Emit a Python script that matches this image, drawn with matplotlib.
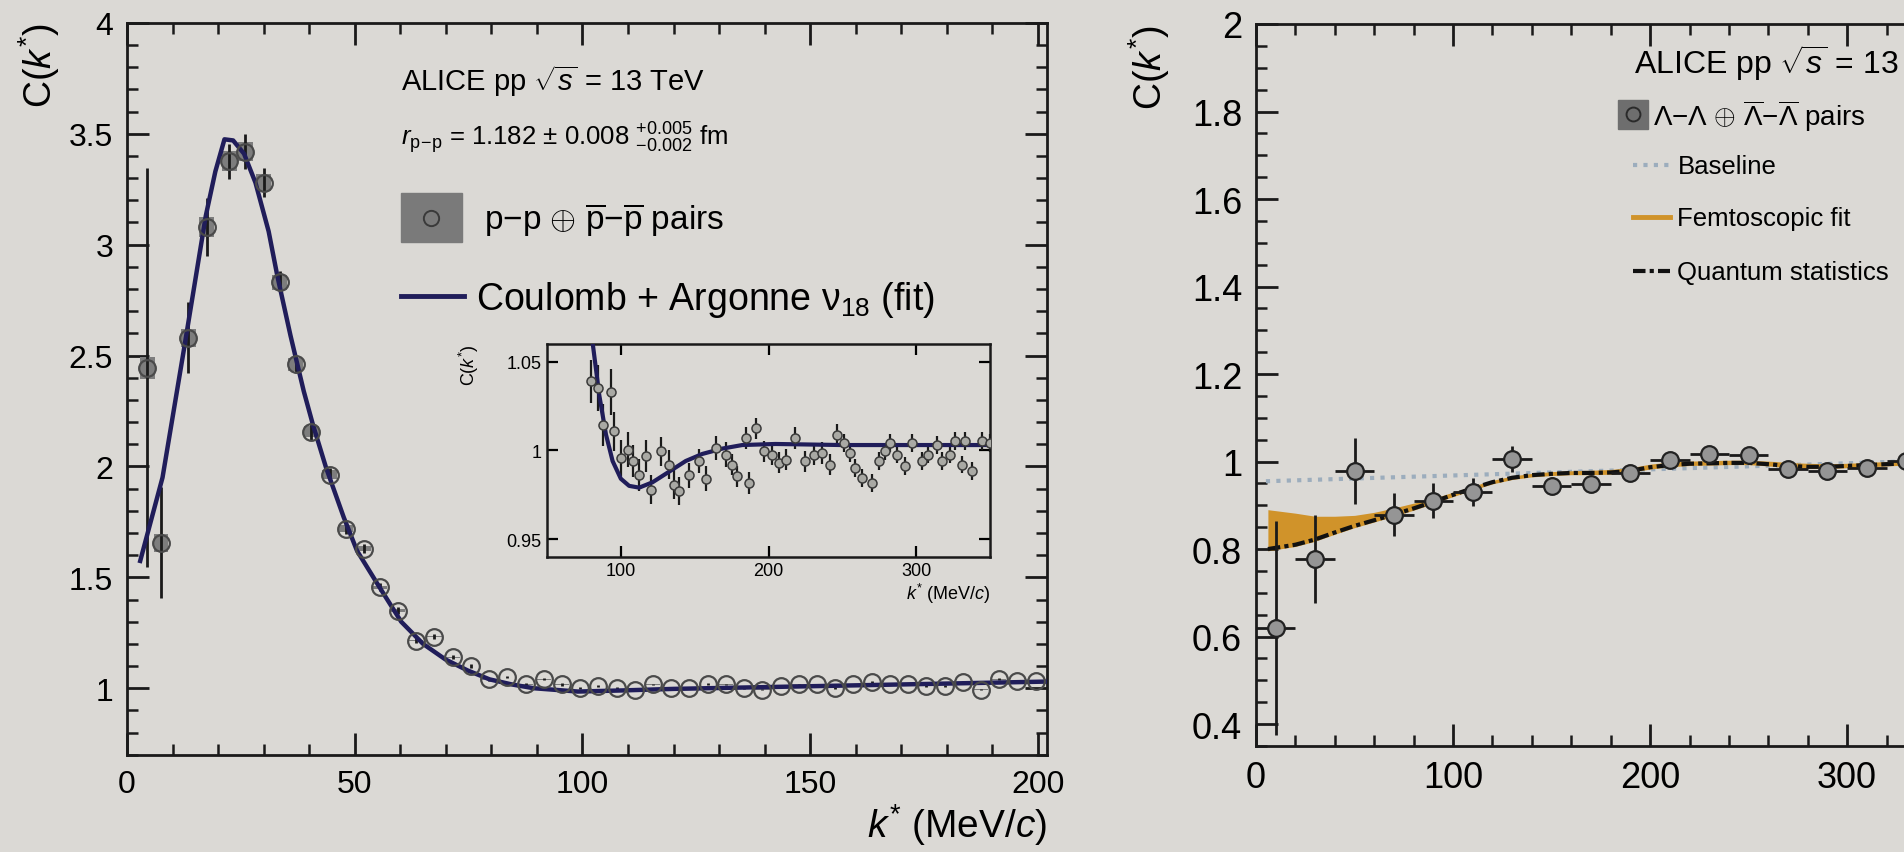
import matplotlib
matplotlib.use("Agg")
import matplotlib.pyplot as plt
from matplotlib.patches import Rectangle
from matplotlib.lines import Line2D
from matplotlib.ticker import MultipleLocator, FuncFormatter

plt.rcParams['font.family'] = ['Liberation Sans', 'DejaVu Sans']
plt.rcParams['mathtext.fontset'] = 'custom'
plt.rcParams['mathtext.rm'] = 'Liberation Sans'
plt.rcParams['mathtext.it'] = 'Liberation Sans:italic'
plt.rcParams['mathtext.bf'] = 'Liberation Sans:bold'
narrow = ['Liberation Sans Narrow', 'Liberation Sans', 'DejaVu Sans']

bg = '#dbd9d5'
navy = '#201d5a'
orange = '#d0932a'

# ---- p-p correlation (left) ----
k_pp = [4.5, 7.5, 13.5, 17.5, 22.5, 26.0, 30.0, 33.5, 37.0, 40.5, 44.5, 48.0, 52.0,
        55.5, 59.5, 63.5, 67.5, 71.5, 75.5, 79.5, 83.5, 87.5, 91.5, 95.5, 99.5, 103.5,
        107.5, 111.5, 115.5, 119.5, 123.5, 127.5, 131.5, 135.5, 139.5, 143.5, 147.5,
        151.5, 155.5, 159.5, 163.5, 167.5, 171.5, 175.5, 179.5, 183.5, 187.5, 191.5,
        195.5, 199.5]
c_pp = [2.445, 1.656, 2.58, 3.08, 3.376, 3.42, 3.28, 2.83, 2.46, 2.156, 1.963, 1.72, 1.63,
        1.455, 1.35, 1.215, 1.233, 1.14, 1.10, 1.04, 1.05, 1.017, 1.04, 1.017, 1.0, 1.01,
        1.0, 0.994, 1.017, 1.0, 1.0, 1.02, 1.017, 1.0, 0.994, 1.009, 1.017,
        1.017, 1.0, 1.017, 1.028, 1.02, 1.02, 1.009, 1.009, 1.028, 0.994, 1.04,
        1.032, 1.032]
stat_pp = [0.90, 0.25, 0.16, 0.13, 0.08, 0.08, 0.065, 0.05, 0.04, 0.035, 0.03, 0.025, 0.02,
           0.018, 0.015, 0.012, 0.01, 0.01, 0.008, 0.007, 0.006, 0.005, 0.005, 0.005, 0.004, 0.004,
           0.004, 0.004, 0.004, 0.004, 0.004, 0.004, 0.004, 0.004, 0.004, 0.004, 0.004,
           0.004, 0.004, 0.004, 0.004, 0.004, 0.004, 0.004, 0.004, 0.004, 0.004, 0.004,
           0.004, 0.004]
syst_pp = [0.05, 0.04, 0.04, 0.045, 0.045, 0.045, 0.04, 0.035, 0.03, 0.025, 0.02, 0.015, 0.01,
           0.008, 0.006, 0.004, 0.003, 0.002, 0.002, 0.001, 0.001, 0.001, 0.001, 0.001, 0.001, 0.001,
           0.001, 0.001, 0.001, 0.001, 0.001, 0.001, 0.001, 0.001, 0.001, 0.001, 0.001,
           0.001, 0.001, 0.001, 0.001, 0.001, 0.001, 0.001, 0.001, 0.001, 0.001, 0.001,
           0.001, 0.001]

k_fit_pp = [2.9, 7.8, 12.6, 17.3, 19.4, 21.4, 23.3, 25.7, 28.2, 31.1, 33.0, 35.9, 38.8,
            40.8, 43.7, 47.6, 50.5, 55.3, 60.2, 65.0, 69.9, 74.8, 79.6, 84.5, 89.3, 99.0,
            108.7, 120.0, 140.0, 160.0, 180.0, 202.0]
c_fit_pp = [1.574, 1.95, 2.54, 3.13, 3.33, 3.475, 3.47, 3.41, 3.28, 3.06, 2.86, 2.59, 2.34,
            2.19, 1.995, 1.77, 1.62, 1.46, 1.30, 1.20, 1.13, 1.08, 1.04, 1.017, 1.0, 0.985,
            0.99, 0.997, 1.005, 1.013, 1.021, 1.03]

# zoomed view of the tail
k_in = [79.7, 84.2, 87.6, 93.2, 95.5, 100.0, 104.5, 107.9, 112.4, 116.9, 120.3, 127.0,
        132.7, 136.0, 139.4, 146.2, 152.9, 157.4, 164.2, 170.9, 175.5, 178.8, 184.5, 186.7,
        191.2, 196.8, 202.5, 207.0, 211.5, 218.2, 225.0, 230.6, 236.3, 241.9, 246.4, 250.9,
        255.4, 258.8, 263.3, 270.0, 274.5, 279.0, 282.4, 286.9, 292.6, 297.1, 303.8, 308.3,
        314.0, 317.3, 323.0, 326.4, 330.9, 333.1, 337.6, 344.4, 350.0]
c_in = [1.0388, 1.035, 1.0144, 1.033, 1.0107, 0.9957, 1.0004, 0.9938, 0.9863, 0.9966, 0.9779,
        0.9994, 0.992, 0.9807, 0.977, 0.986, 0.994, 0.984, 1.0013, 0.9976, 0.992, 0.9854, 1.007,
        0.9816, 1.0125, 0.9994, 0.9976, 0.993, 0.9948, 1.007, 0.9938, 0.9976, 0.9985, 0.992,
        1.0088, 1.0041, 0.9985, 0.99, 0.9844, 0.9816, 0.9938, 0.9994, 1.0041, 0.9976, 0.991,
        1.0041, 0.9938, 0.9976, 1.0032, 0.9938, 0.9976, 1.0051, 0.992, 1.0051, 0.9882, 1.0051,
        1.0041]
err_in = [0.012, 0.013, 0.012, 0.013, 0.011, 0.010, 0.010, 0.009, 0.009, 0.009, 0.008,
          0.008, 0.008, 0.008, 0.008, 0.007, 0.007, 0.007, 0.007, 0.007, 0.006, 0.006, 0.006,
          0.006, 0.006, 0.006, 0.006, 0.006, 0.006, 0.006, 0.006, 0.006, 0.006, 0.006, 0.006,
          0.005, 0.005, 0.005, 0.005, 0.005, 0.005, 0.005, 0.005, 0.005, 0.005, 0.005, 0.005,
          0.005, 0.005, 0.005, 0.005, 0.005, 0.005, 0.005, 0.005, 0.005, 0.005]
k_fit_in = [80.9, 85.4, 89.9, 94.4, 100.0, 105.6, 112.4, 121.4, 132.7, 143.9, 155.2, 168.7,
            182.2, 204.7, 249.8, 294.8, 348.9]
c_fit_in = [1.0605, 1.031, 1.009, 0.994, 0.984, 0.980, 0.979, 0.982, 0.988, 0.994, 0.998,
            1.001, 1.003, 1.0036, 1.003, 1.003, 1.003]

# ---- Lambda-Lambda correlation (right) ----
k_ll = [10, 30, 50, 70, 90, 110, 130, 150, 170, 190, 210, 230, 250, 270, 290, 310, 330]
c_ll = [0.62, 0.777, 0.978, 0.879, 0.91, 0.93, 1.005, 0.945, 0.949, 0.974, 1.004, 1.018,
        1.015, 0.982, 0.978, 0.985, 1.002]
err_ll = [0.245, 0.10, 0.075, 0.048, 0.04, 0.032, 0.03, 0.02, 0.015, 0.012, 0.012, 0.01,
          0.01, 0.01, 0.01, 0.01, 0.01]

k_fit_ll = [6, 20, 30, 40, 50, 60, 70, 80, 90, 100, 110, 120, 130, 140, 150, 160, 170, 180,
            190, 200, 210, 220, 230, 240, 250, 260, 270, 280, 290, 300, 310, 320, 330, 340,
            360, 380, 400]
fit_hi_ll = [0.890, 0.882, 0.875, 0.875, 0.877, 0.884, 0.894, 0.905, 0.916, 0.930, 0.944,
             0.957, 0.967, 0.973, 0.977, 0.979, 0.980, 0.982, 0.986, 0.994, 0.999, 1.001,
             1.002, 1.003, 1.003, 1.001, 0.998, 0.996, 0.995, 0.996, 0.998, 1.000, 1.001,
             1.002, 1.003, 1.004, 1.005]
qs_ll = [0.800, 0.810, 0.822, 0.838, 0.853, 0.866, 0.879, 0.893, 0.908, 0.924, 0.939,
         0.953, 0.963, 0.969, 0.972, 0.974, 0.974, 0.975, 0.979, 0.987, 0.992, 0.995,
         0.996, 0.997, 0.997, 0.994, 0.990, 0.988, 0.988, 0.990, 0.992, 0.994, 0.996,
         0.997, 0.998, 0.999, 1.000]
k_base = [5, 400]
c_base = [0.955, 1.010]


def root_style(ax, size, family=None):
    ax.set_facecolor('none')
    for s in ax.spines.values():
        s.set_linewidth(2.0)
        s.set_color('#1a1a1a')
    ax.tick_params(which='both', direction='in', top=True, right=True,
                   color='#1a1a1a', labelsize=size, pad=10)
    ax.tick_params(which='major', length=16, width=2.0)
    ax.tick_params(which='minor', length=8, width=1.8)
    fmt = FuncFormatter(lambda v, p: '%g' % round(v, 3))
    ax.xaxis.set_major_formatter(fmt)
    ax.yaxis.set_major_formatter(fmt)
    if family:
        for lbl in ax.get_xticklabels() + ax.get_yticklabels():
            lbl.set_family(family)


fig = plt.figure(figsize=(19.04, 8.53), dpi=100, facecolor=bg)

# left panel
ax = fig.add_axes([0.0667, 0.114, 0.4832, 0.858])
ax.set_xlim(0, 202)
ax.set_ylim(0.7, 4)
ax.xaxis.set_major_locator(MultipleLocator(50))
ax.xaxis.set_minor_locator(MultipleLocator(10))
ax.yaxis.set_major_locator(MultipleLocator(0.5))
ax.yaxis.set_minor_locator(MultipleLocator(0.1))
root_style(ax, 23)

ax.bar(k_pp, [2 * s for s in syst_pp], bottom=[c - s for c, s in zip(c_pp, syst_pp)],
       width=3.2, color='#7d7d7d', zorder=2)
ax.errorbar(k_pp, c_pp, yerr=stat_pp, fmt='none', ecolor='#1a1a1a', elinewidth=2, zorder=3)
ax.plot(k_fit_pp, c_fit_pp, color=navy, lw=3.2, zorder=4)
ax.plot(k_pp, c_pp, 'o', ms=12, mfc='none', mec='#4a4a4a', mew=1.6, zorder=5)

ax.set_ylabel(r'C($k^{*}$)', fontsize=27, loc='top')
ax.yaxis.set_label_coords(-0.071, 1.0)
ax.set_xlabel(r'$k^{*}$ (MeV/$c$)', fontsize=28, loc='right', labelpad=2)

fig.text(0.2105, 0.905, r'ALICE pp $\sqrt{s}$ = 13 TeV', fontsize=21, va='center')
fig.text(0.2105, 0.838, r'$r_{\mathrm{p\!-\!p}}$ = 1.182 $\pm$ 0.008 ${}^{+0.005}_{-0.002}$ fm',
         fontsize=18.5, va='center')
fig.patches.append(Rectangle((0.2105, 0.715), 0.032, 0.057, transform=fig.transFigure,
                             color='#7a7a7a', figure=fig))
fig.lines.append(Line2D([0.2265], [0.7435], transform=fig.transFigure, marker='o', ms=11,
                        mfc='none', mec='#3a3a3a', mew=1.4, figure=fig))
fig.text(0.254, 0.742, r'p$-$p $\oplus$ $\overline{\mathrm{p}}$$-$$\overline{\mathrm{p}}$ pairs',
         fontsize=24, va='center')
fig.lines.append(Line2D([0.2105, 0.2435], [0.652, 0.652], transform=fig.transFigure,
                        color=navy, lw=3.5, figure=fig))
fig.text(0.25, 0.648, r'Coulomb + Argonne ν$_{18}$ (fit)', fontsize=27, va='center')

# inset
axi = fig.add_axes([0.2873, 0.346, 0.2327, 0.2497])
axi.set_xlim(50, 350)
axi.set_ylim(0.94, 1.06)
axi.xaxis.set_major_locator(MultipleLocator(100))
axi.yaxis.set_major_locator(MultipleLocator(0.05))
axi.set_facecolor(bg)
for s in axi.spines.values():
    s.set_linewidth(1.8)
    s.set_color('#1a1a1a')
axi.tick_params(which='both', direction='in', top=True, right=True, labelsize=13,
                length=8, width=1.6, pad=4)
axi.yaxis.set_major_formatter(FuncFormatter(lambda v, p: '%g' % round(v, 3)))
axi.errorbar(k_in, c_in, yerr=err_in, fmt='none', ecolor='#1a1a1a', elinewidth=1.6, zorder=3)
axi.plot(k_fit_in, c_fit_in, color=navy, lw=3.0, zorder=4)
axi.plot(k_in, c_in, 'o', ms=6.5, mfc='#a9a9a4', mec='#3a3a3a', mew=1.1, zorder=5)
axi.set_ylabel(r'C($k^{*}$)', fontsize=13, loc='top')
axi.yaxis.set_label_coords(-0.15, 1.0)
axi.set_xlabel(r'$k^{*}$ (MeV/$c$)', fontsize=13, loc='right', labelpad=1)

# right panel
ax2 = fig.add_axes([0.6597, 0.1243, 0.4139, 0.8464])
ax2.set_xlim(0, 400)
ax2.set_ylim(0.35, 2)
ax2.xaxis.set_major_locator(MultipleLocator(100))
ax2.xaxis.set_minor_locator(MultipleLocator(20))
ax2.yaxis.set_major_locator(MultipleLocator(0.2))
ax2.yaxis.set_minor_locator(MultipleLocator(0.05))
ax2.set_xticks([0, 100, 200, 300])
root_style(ax2, 26, narrow)

ax2.plot(k_base, c_base, color='#9cadbd', lw=3.0, ls=(0, (1, 1.5)), zorder=2)
ax2.fill_between(k_fit_ll, [q - 0.004 for q in qs_ll], fit_hi_ll, color=orange, lw=0, zorder=3)
ax2.plot(k_fit_ll, qs_ll, color='#111111', lw=3.0, ls=(0, (3, 1, 1, 1)), zorder=4)
ax2.errorbar(k_ll, c_ll, yerr=err_ll, xerr=10, fmt='o', ms=12, mfc='#959595', mec='#222222',
             mew=1.6, ecolor='#1a1a1a', elinewidth=2, zorder=5)
ax2.set_ylabel(r'C($k^{*}$)', fontsize=27, loc='top', family=narrow)
ax2.yaxis.set_label_coords(-0.107, 1.0)

fig.text(0.858, 0.926, r'ALICE pp $\sqrt{s}$ = 13 TeV', fontsize=23, va='center', family=narrow)
fig.patches.append(Rectangle((0.850, 0.848), 0.0155, 0.034, transform=fig.transFigure,
                             color='#6e6e6e', figure=fig))
fig.lines.append(Line2D([0.8577], [0.865], transform=fig.transFigure, marker='o', ms=10,
                        mfc='none', mec='#2a2a2a', mew=1.4, figure=fig))
fig.text(0.868, 0.864, r'Λ$-$Λ $\oplus$ $\overline{\Lambda}$$-$$\overline{\Lambda}$ pairs',
         fontsize=20, va='center', family=narrow)
fig.lines.append(Line2D([0.8575, 0.877], [0.805, 0.805], transform=fig.transFigure,
                        color='#9cadbd', lw=3, ls=(0, (1, 1.5)), figure=fig))
fig.text(0.881, 0.804, 'Baseline', fontsize=18.5, va='center', family=narrow)
fig.lines.append(Line2D([0.8575, 0.877], [0.744, 0.744], transform=fig.transFigure,
                        color=orange, lw=3.5, figure=fig))
fig.text(0.881, 0.743, 'Femtoscopic fit', fontsize=18.5, va='center', family=narrow)
fig.lines.append(Line2D([0.8575, 0.877], [0.681, 0.681], transform=fig.transFigure,
                        color='#111111', lw=3, ls=(0, (3, 1, 1, 1)), figure=fig))
fig.text(0.881, 0.680, 'Quantum statistics', fontsize=18.5, va='center', family=narrow)

fig.savefig('out.png', dpi=100, facecolor=bg)
